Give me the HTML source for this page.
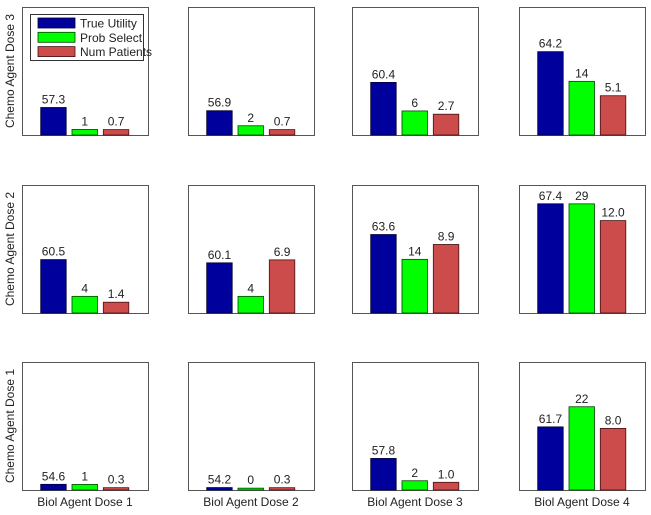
<!DOCTYPE html>
<html><head><meta charset="utf-8"><style>
html,body{margin:0;padding:0;background:#fff;}
svg{display:block;font-family:"Liberation Sans",Arial,sans-serif;}
</style></head><body>
<svg id="chart" width="651" height="515" viewBox="0 0 651 515" xmlns="http://www.w3.org/2000/svg"></svg>
<script>
// data: rows are chemo dose 3,2,1 (top to bottom); columns biol dose 1..4
const rowLabels = ["Chemo Agent Dose 3","Chemo Agent Dose 2","Chemo Agent Dose 1"];
const colLabels = ["Biol Agent Dose 1","Biol Agent Dose 2","Biol Agent Dose 3","Biol Agent Dose 4"];
const seriesNames = ["True Utility","Prob Select","Num Patients"];
const trueUtility = [[57.3,56.9,60.4,64.2],[60.5,60.1,63.6,67.4],[54.6,54.2,57.8,61.7]];
const probSelect = [[1,2,6,14],[4,4,14,29],[1,0,2,22]];
const numPatients = [[0.7,0.7,2.7,5.1],[1.4,6.9,8.9,12.0],[0.3,0.3,1.0,8.0]];
const labelTrue = [["57.3","56.9","60.4","64.2"],["60.5","60.1","63.6","67.4"],["54.6","54.2","57.8","61.7"]];
const labelProb = [["1","2","6","14"],["4","4","14","29"],["1","0","2","22"]];
const labelNum = [["0.7","0.7","2.7","5.1"],["1.4","6.9","8.9","12.0"],["0.3","0.3","1.0","8.0"]];

const colors = ["#00009c","#00ff00","#cc4c4c"];
const strokes = ["#000033","#004400","#441111"];
const panelX = [22,188,352,519], panelY = [7,185,362], PW=126, PH=128;
// per-series value -> pixel height
const scales = [v=>(v-53.9)*8.09, v=>(v+0.5)*3.7, v=>v*7.7];
const barOff = [18.7,50,81.3], BW=25.5;

const svg = document.getElementById('chart');
const NS = "http://www.w3.org/2000/svg";
function mk(tag, attrs, parent){const e=document.createElementNS(NS,tag);for(const k in attrs)e.setAttribute(k,attrs[k]);(parent||svg).appendChild(e);return e;}

const dataSets=[trueUtility,probSelect,numPatients], labelSets=[labelTrue,labelProb,labelNum];
for(let r=0;r<3;r++){
  for(let c=0;c<4;c++){
    const g=mk('g',{});
    
    
    const x0=panelX[c], y0=panelY[r];
    const box=mk('rect',{x:x0+0.5,y:y0+0.5,width:PW,height:PH,fill:'#fff',stroke:'#555','stroke-width':1},g);
    
    
    for(let s=0;s<3;s++){
      const v=dataSets[s][r][c];
      const h=Math.max(0.8,scales[s](v));
      const bx=x0+barOff[s], by=y0+PH-h;
      const b=mk('rect',{x:bx,y:by,width:BW,height:h,fill:colors[s],stroke:strokes[s],'stroke-width':0.8},g);
      
      
      const t=mk('text',{x:bx+BW/2,y:by-4,'text-anchor':'middle','font-size':12,fill:'#222'},g);
      t.textContent=labelSets[s][r][c];
      
      
    }
  }
  const cy=panelY[r]+PH/2;
  const yl=mk('text',{x:0,y:0,transform:'translate(14,'+cy+') rotate(-90)','text-anchor':'middle','font-size':12,fill:'#222'});
  yl.textContent=rowLabels[r];
  
  
}
for(let c=0;c<4;c++){
  const xl=mk('text',{x:panelX[c]+PW/2,y:506,'text-anchor':'middle','font-size':12,fill:'#222'});
  xl.textContent=colLabels[c];
  
  
}
// legend
const lg=mk('g',{});


mk('rect',{x:30.5,y:14.5,width:113,height:46,fill:'#fff',stroke:'#333','stroke-width':1},lg);
for(let s=0;s<3;s++){
  const yy=18+s*14.3;
  const sw=mk('rect',{x:38,y:yy,width:37,height:10,fill:colors[s],stroke:strokes[s],'stroke-width':0.8},lg);
  
  
  const lt=mk('text',{x:80,y:yy+9.5,'font-size':12,fill:'#222'},lg);
  lt.textContent=seriesNames[s];
  
  
}
</script>
</body></html>
